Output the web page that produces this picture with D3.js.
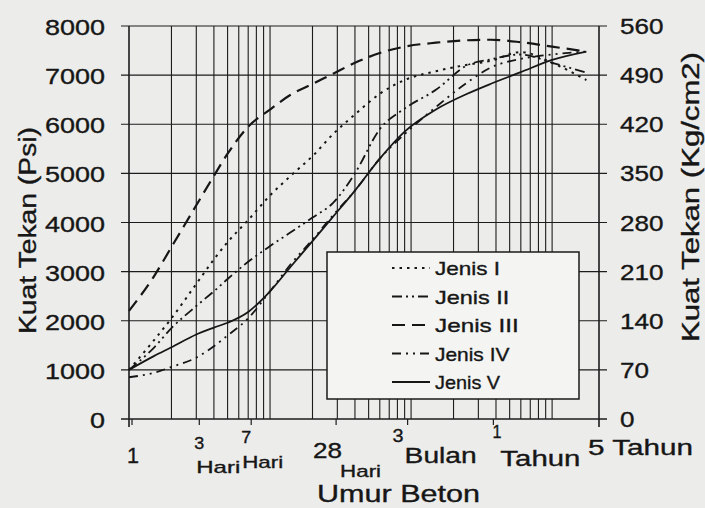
<!DOCTYPE html>
<html>
<head>
<meta charset="utf-8">
<script src="https://cdnjs.cloudflare.com/ajax/libs/d3/7.8.5/d3.min.js"></script>
<style>
  body { margin: 0; background: #ececea; }
  svg { display: block; }
  text { font-family: "Liberation Sans", Arial, sans-serif; fill: #161616; stroke: #161616; stroke-width: 0.35px; }
</style>
</head>
<body>
<div id="chart-area"></div>
<script>
// umur beton (hari) - shared by every curve
var days = [1, 1.5, 2, 3, 4, 5, 7, 10, 14, 20, 28, 40, 60, 90, 150, 250, 365, 600, 1000, 1750];

// kuat tekan (psi)
var jenis1 = [1000, 1600, 2050, 2750, 3250, 3600, 4050, 4550, 4950, 5350, 5800, 6200, 6620, 6900, 7080, 7210, 7290, 7470, 7250, 6900];
var jenis2 = [1000, 1450, 1850, 2300, 2600, 2850, 3200, 3520, 3800, 4100, 4400, 5000, 5900, 6320, 6700, 7200, 7320, 7420, 7250, 7050];
var jenis3 = [2200, 2900, 3500, 4350, 4950, 5400, 5950, 6300, 6600, 6820, 7030, 7250, 7450, 7580, 7660, 7710, 7720, 7670, 7580, 7480];
var jenis4 = [850, 940, 1060, 1250, 1480, 1700, 2050, 2600, 3150, 3650, 4150, 4650, 5300, 5800, 6350, 6850, 7150, 7330, 7420, 7480];
var jenis5 = [1000, 1280, 1460, 1720, 1860, 1960, 2180, 2600, 3100, 3620, 4120, 4650, 5300, 5850, 6300, 6620, 6820, 7060, 7310, 7480];

var seriesNames = ["Jenis I", "Jenis II", "Jenis III", "Jenis IV", "Jenis V"];

// ticks
var psiTicks = [0, 1000, 2000, 3000, 4000, 5000, 6000, 7000, 8000];
var kgTicks = [0, 70, 140, 210, 280, 350, 420, 490, 560];
var gridDays = [2, 3, 4, 5, 6, 7, 8, 9, 10, 20, 30, 40, 50, 60, 70, 80, 90, 100,
                200, 300, 400, 500, 600, 700, 800, 900, 1000];
var markDays = [1, 3, 7, 28, 90, 365];

// plot frame
var margin = {left: 129, right: 599, top: 26, bottom: 419};
var W = 705, H = 508;

var svg = d3.select("#chart-area")
  .append("svg")
    .attr("width", W)
    .attr("height", H);

var x = d3.scaleLog().domain([1, 2150]).range([margin.left, margin.right]);
var y = d3.scaleLinear().domain([0, 8000]).range([margin.bottom, margin.top]);
var y2 = d3.scaleLinear().domain([0, 560]).range([margin.bottom, margin.top]);

// text helper, textLength stretches glyphs like the scan
function txt(px, py, str, size, len, anchor, rot) {
  var t = svg.append("text")
    .attr("x", px)
    .attr("y", py)
    .attr("font-size", size + "px")
    .attr("text-anchor", anchor || "start")
    .text(str);
  if (len) t.attr("textLength", len).attr("lengthAdjust", "spacingAndGlyphs");
  if (rot) t.attr("transform", "rotate(-90," + px + "," + py + ")");
  return t;
}

// grid
var grid = svg.append("g").attr("stroke", "#1c1c1c").attr("fill", "none");

grid.selectAll(".vgrid")
  .data(gridDays)
  .enter().append("line")
    .attr("x1", function(d) { return x(d); })
    .attr("x2", function(d) { return x(d); })
    .attr("y1", margin.top)
    .attr("y2", margin.bottom)
    .attr("stroke-width", 1.1);

grid.selectAll(".hgrid")
  .data(psiTicks)
  .enter().append("line")
    .attr("x1", margin.left - 8)
    .attr("x2", margin.right + 8)
    .attr("y1", function(d) { return y(d); })
    .attr("y2", function(d) { return y(d); })
    .attr("stroke-width", function(d) { return d === 0 ? 1.6 : 1.2; });

// axis lines
grid.append("line").attr("x1", margin.left).attr("x2", margin.left)
  .attr("y1", margin.top).attr("y2", margin.bottom + 8).attr("stroke-width", 1.6);
grid.append("line").attr("x1", margin.right).attr("x2", margin.right)
  .attr("y1", margin.top).attr("y2", margin.bottom + 8).attr("stroke-width", 1.6);

grid.selectAll(".mark")
  .data(markDays)
  .enter().append("line")
    .attr("x1", function(d) { return x(d) + 3; })
    .attr("x2", function(d) { return x(d) + 3; })
    .attr("y1", margin.bottom)
    .attr("y2", margin.bottom + 6)
    .attr("stroke-width", 1.2);

// left / right tick labels
psiTicks.forEach(function(d) {
  var s = String(d);
  txt(105, y(d) + 9, s, 22, 15 * s.length, "end");
});
kgTicks.forEach(function(d) {
  var s = String(d);
  txt(620, y2(d) + 8, s, 22, 14.5 * s.length, "start");
});

// curves
var styles = [
  { dash: "2.5,5", w: 2.0, cap: "butt" },
  { dash: "10,4,2,4,2,4", w: 1.8, cap: "butt" },
  { dash: "13,7", w: 2.2, cap: "butt" },
  { dash: "9,5,2,5,2,5", w: 1.8, cap: "butt" },
  { dash: null, w: 1.8, cap: "butt" }
];
var allSeries = [jenis1, jenis2, jenis3, jenis4, jenis5];

var line = d3.line()
  .x(function(d) { return x(d[0]); })
  .y(function(d) { return y(d[1]); })
  .curve(d3.curveMonotoneX);

allSeries.forEach(function(vals, i) {
  var pts = days.map(function(d, j) { return [d, vals[j]]; });
  svg.append("path")
    .datum(pts)
    .attr("d", line)
    .attr("fill", "none")
    .attr("stroke", "#161616")
    .attr("stroke-width", styles[i].w)
    .attr("stroke-linecap", styles[i].cap)
    .attr("stroke-dasharray", styles[i].dash);
});

// legend
var lg = svg.append("g");
lg.append("rect")
  .attr("x", 327).attr("y", 252)
  .attr("width", 252).attr("height", 147)
  .attr("fill", "#f4f4f2")
  .attr("stroke", "#1a1a1a")
  .attr("stroke-width", 1.5);

seriesNames.forEach(function(name, i) {
  var ly = 268 + i * 28.5;
  lg.append("line")
    .attr("x1", 392).attr("x2", 430)
    .attr("y1", ly).attr("y2", ly)
    .attr("stroke", "#161616")
    .attr("stroke-width", styles[i].w)
    .attr("stroke-linecap", styles[i].cap)
    .attr("stroke-dasharray", styles[i].dash);
  svg.append("text")
    .attr("x", 435)
    .attr("y", ly + 7)
    .attr("font-size", "19px")
    .attr("textLength", name.length * 9.3)
    .attr("lengthAdjust", "spacingAndGlyphs")
    .text(name);
});

// x labels
txt(x(1) - 2, 463, "1", 22, 12);
txt(x(3) - 2, 449, "3", 17, 10);
txt(x(3), 473, "Hari", 17, 44);
txt(x(7) - 7, 443, "7", 17, 10);
txt(x(7) - 6, 468, "Hari", 17, 41);
txt(x(28) - 20, 458, "28", 22, 29);
txt(x(28) + 7, 477, "Hari", 17, 41);
txt(x(90) - 12, 442, "3", 19, 11);
txt(x(90), 463, "Bulan", 22, 72);
txt(x(365) + 2, 438, "1", 19, 9);
txt(x(365) + 10, 466, "Tahun", 22, 80);
txt(x(1825) - 1, 455, "5 Tahun", 22, 105);

// titles
txt(317, 502, "Umur Beton", 23, 163);
txt(36, 334, "Kuat Tekan (Psi)", 23, 207, "start", true);
txt(699, 342, "Kuat Tekan (Kg/cm2)", 23, 290, "start", true);
</script>
</body>
</html>
